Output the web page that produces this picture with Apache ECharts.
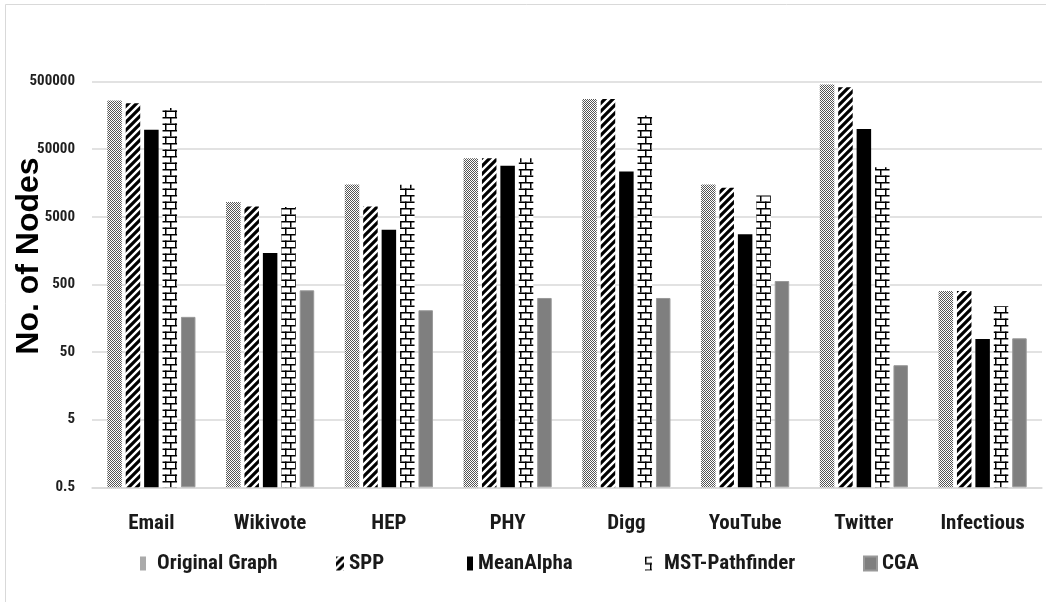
<!DOCTYPE html>
<html>
<head>
<meta charset="utf-8">
<script src="https://cdn.jsdelivr.net/npm/echarts@6/dist/echarts.min.js"></script>
<style>
  html, body { margin: 0; padding: 0; background: #fff; }
  #chart { width: 1046px; height: 602px; }
</style>
</head>
<body>
<div id="chart"></div>
<script>
// ---- Data ----
const categories = ['Email', 'Wikivote', 'HEP', 'PHY', 'Digg', 'YouTube', 'Twitter', 'Infectious'];
const seriesNames = ['Original Graph', 'SPP', 'MeanAlpha', 'MST-Pathfinder', 'CGA'];
const originalGraph = [263000, 8300, 15100, 37000, 278000, 15100, 453000, 400];
const spp = [240000, 7150, 7150, 37000, 278000, 13500, 413000, 400];
const meanAlpha = [97000, 1460, 3240, 28500, 23500, 2760, 100000, 78];
const mstPathfinder = [205000, 7000, 15000, 37000, 158000, 10400, 27200, 238];
const cga = [166, 410, 208, 316, 316, 563, 32, 80];
const yTicks = [0.5, 5, 50, 500, 5000, 50000, 500000];
const yTickLabels = ['0.5', '5', '50', '500', '5000', '50000', '500000'];

// ---- Patterns ----
function makeCanvas(w, h, draw) {
  const c = document.createElement('canvas');
  c.width = w; c.height = h;
  const ctx = c.getContext('2d');
  ctx.fillStyle = '#ffffff';
  ctx.fillRect(0, 0, w, h);
  draw(ctx);
  return c;
}
const dotCanvas = makeCanvas(2, 2, ctx => {
  ctx.fillStyle = '#555555';
  ctx.fillRect(0, 0, 1, 1);
  ctx.fillRect(1, 1, 1, 1);
});
const stripeCanvas = makeCanvas(8, 8, ctx => {
  ctx.strokeStyle = '#000';
  ctx.lineWidth = 3.2;
  ctx.beginPath();
  ctx.moveTo(-2, 10); ctx.lineTo(10, -2);
  ctx.moveTo(-2, 2); ctx.lineTo(2, -2);
  ctx.moveTo(6, 10); ctx.lineTo(10, 6);
  ctx.stroke();
});
const brickCanvas = makeCanvas(10, 13, ctx => {
  ctx.fillStyle = '#000';
  ctx.fillRect(0, 0, 10, 1.5);
  ctx.fillRect(0, 6.5, 10, 1.5);
  ctx.fillRect(0, 0, 1.5, 6.5);
  ctx.fillRect(5, 6.5, 1.5, 6.5);
});
const dotPattern = { image: dotCanvas, repeat: 'repeat' };
const stripePattern = { image: stripeCanvas, repeat: 'repeat' };
const brickPattern = { image: brickCanvas, repeat: 'repeat' };

const narrow = "'Roboto Condensed', 'Liberation Sans Narrow', 'Arial Narrow', sans-serif";

const chart = echarts.init(document.getElementById('chart'), null, { renderer: 'canvas' });

function barSeries(name, data, color, border) {
  return {
    name: name,
    type: 'bar',
    data: data,
    barWidth: 14.5,
    barGap: '27%',
    itemStyle: Object.assign({ color: color }, border || {}),
    emphasis: { disabled: true },
    animation: false
  };
}

function legendItem(name, left, iconW, pad) {
  return {
    data: [name],
    left: left,
    top: 548,
    icon: 'rect',
    itemWidth: iconW,
    itemHeight: 14,
    selectedMode: false,
    textStyle: {
      fontFamily: narrow,
      fontWeight: 'bold',
      fontSize: 21,
      color: '#1a1a1a',
      padding: [0, 0, 0, pad]
    }
  };
}

function nearestTickLabel(v) {
  let best = 0, bestD = Infinity;
  const lv = Math.log10(v);
  yTicks.forEach((t, i) => {
    const d = Math.abs(Math.log10(t) - lv);
    if (d < bestD) { bestD = d; best = i; }
  });
  return yTickLabels[best];
}

const option = {
  backgroundColor: '#ffffff',
  animation: false,
  grid: { left: 92, right: 4, top: 81.7, bottom: 114.7, containLabel: false },
  xAxis: {
    type: 'category',
    data: categories,
    axisTick: { show: false },
    axisLine: { show: true, lineStyle: { color: '#d9d9d9', width: 1.5 } },
    axisLabel: {
      interval: 0,
      margin: 26,
      fontFamily: narrow,
      fontWeight: 'bold',
      fontSize: 21,
      color: '#1a1a1a'
    }
  },
  yAxis: {
    type: 'log',
    logBase: 10,
    min: yTicks[0],
    max: yTicks[yTicks.length - 1],
    interval: 1,
    startValue: yTicks[0],
    axisLine: { show: false },
    axisTick: { show: false },
    splitLine: { show: true, lineStyle: { color: '#d9d9d9', width: 1.5 } },
    axisLabel: {
      margin: 17,
      fontFamily: narrow,
      fontWeight: 'bold',
      fontSize: 15,
      color: '#1f1f1f',
      formatter: nearestTickLabel
    }
  },
  legend: [
    legendItem(seriesNames[0], 135, 6, 6),
    legendItem(seriesNames[1], 331, 8, 0),
    legendItem(seriesNames[2], 462, 6, 0),
    legendItem(seriesNames[3], 640, 7, 7),
    legendItem(seriesNames[4], 858, 13, 0)
  ],
  graphic: [
    {
      type: 'rect',
      silent: true,
      shape: { x: 5.5, y: 4.5, width: 1100, height: 700 },
      style: { fill: 'none', stroke: '#d9d9d9', lineWidth: 1 },
      z: -10
    },
    {
      type: 'text',
      silent: true,
      x: 29,
      y: 256,
      rotation: Math.PI / 2,
      style: {
        text: 'No. of Nodes',
        fontFamily: "'Liberation Sans', Arial, sans-serif",
        fontWeight: 'bold',
        fontSize: 32,
        fill: '#000',
        align: 'center',
        verticalAlign: 'middle'
      }
    }
  ],
  series: [
    barSeries(seriesNames[0], originalGraph, dotPattern),
    barSeries(seriesNames[1], spp, stripePattern),
    barSeries(seriesNames[2], meanAlpha, '#000000'),
    barSeries(seriesNames[3], mstPathfinder, brickPattern),
    barSeries(seriesNames[4], cga, '#7f7f7f', { borderColor: '#999999', borderWidth: 1 })
  ]
};

chart.setOption(option);
</script>
</body>
</html>
